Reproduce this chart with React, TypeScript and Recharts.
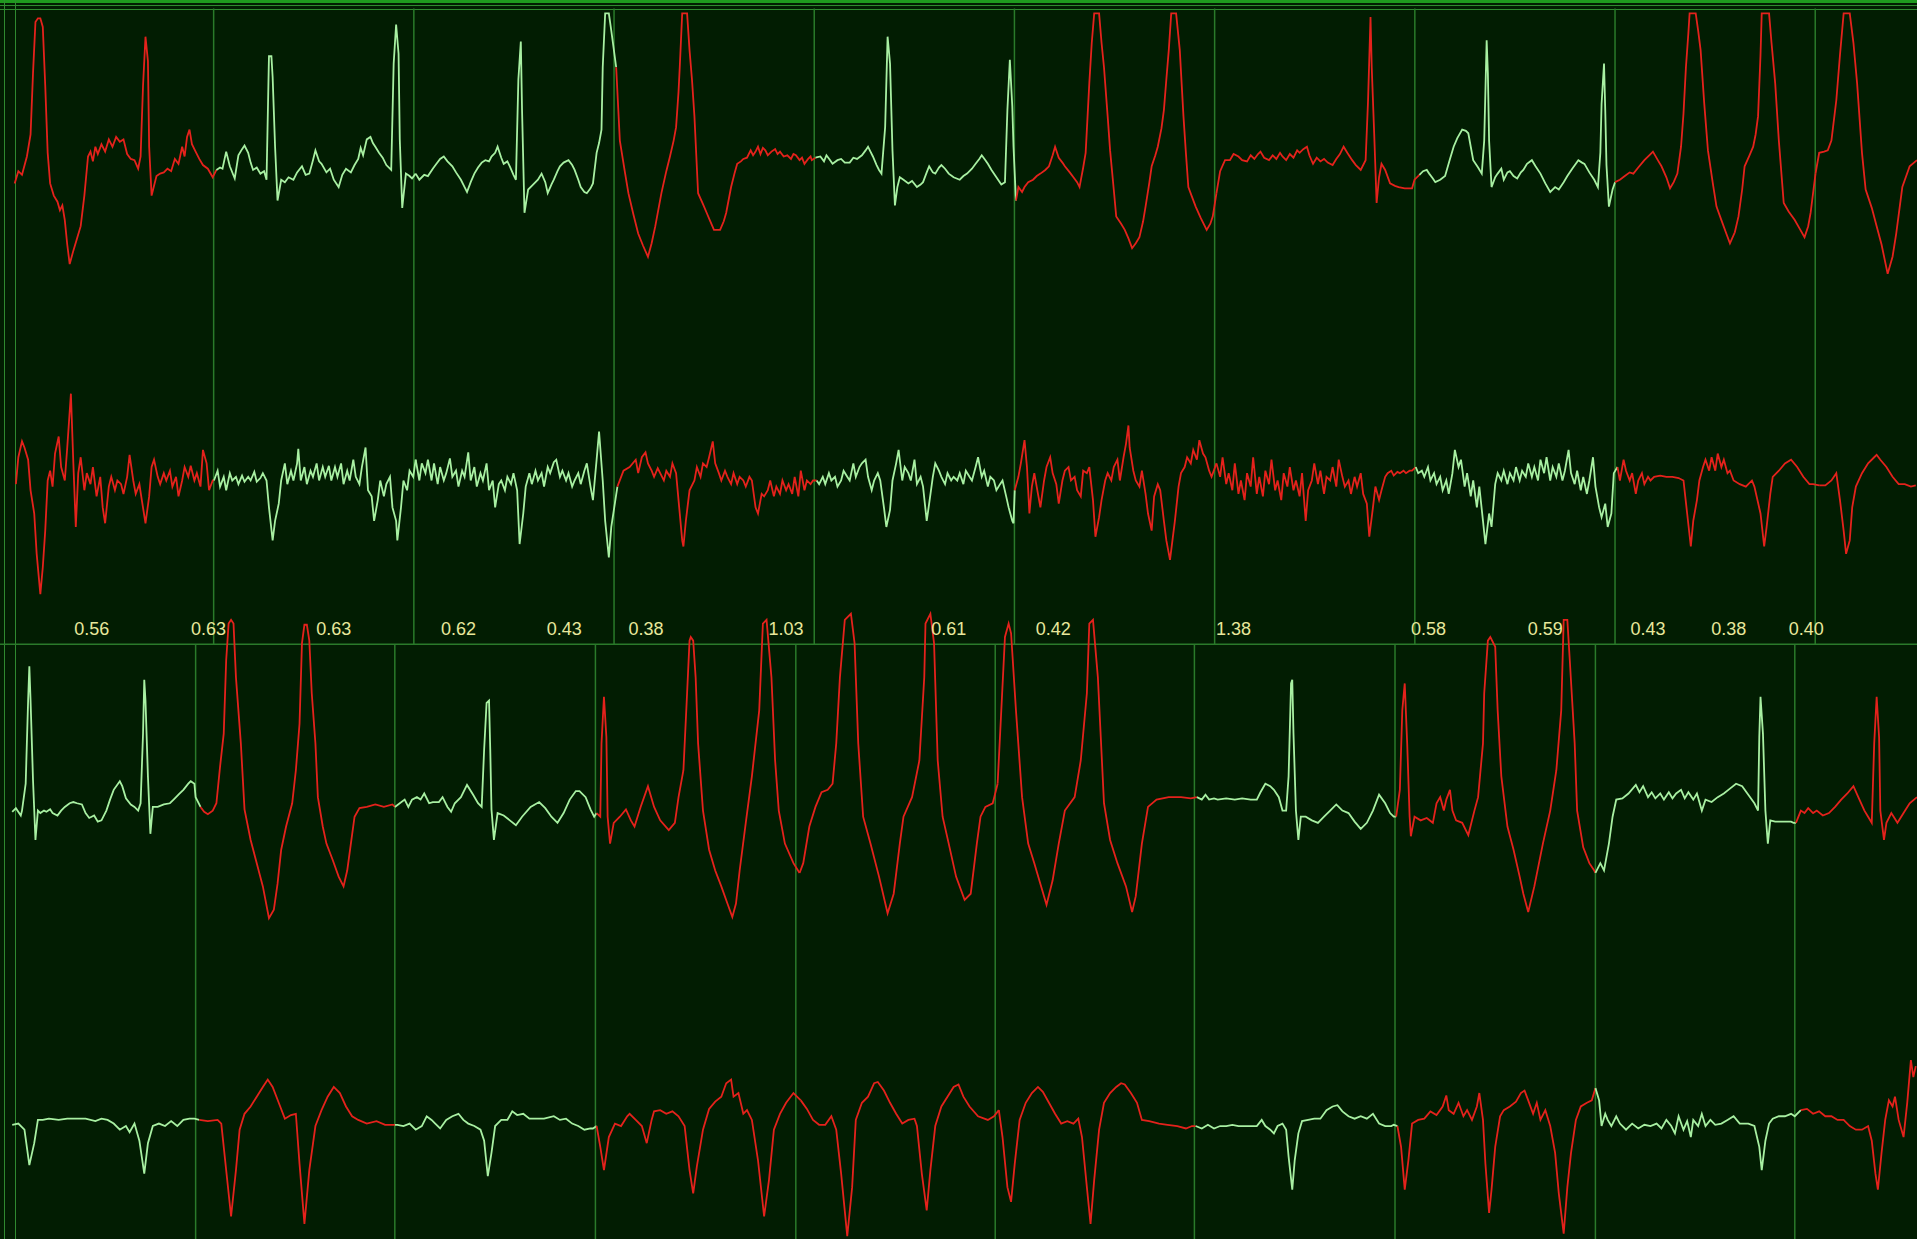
import React from 'react';
import { LineChart, Line, XAxis, YAxis, ReferenceLine, ReferenceDot } from 'recharts';

const SAMPLE_RATE = 163.75; // samples per second
const WIDTH = 1917;
const HEIGHT = 1239;

// [sample, amplitude] pairs, amplitude in 10 uV units, relative to each lead's baseline
const TOP_LEAD1 = [
  1,-15, 4,-5, 7,-8, 11,7, 14,25, 16,75, 18,117, 20,120, 22,120, 24,113, 26,65, 28,10, 30,-15, 33,-25, 36,-30, 38,-37, 40,-33, 42,-45, 44,-65, 46,-81, 49,-70, 52,-60, 55,-50, 58,-25, 61,7, 63,11, 65,3, 67,15, 69,9, 72,17, 75,11, 78,21, 81,15, 84,23, 87,19, 90,21, 93,9, 96,5, 99,4, 102,-3, 104,7, 106,65, 108,105, 110,85, 111,15, 113,-25, 115,-17, 117,-9, 120,-7, 123,-6, 126,-3, 129,-5, 132,5, 135,1, 138,15, 140,7, 142,23, 144,29, 146,17, 149,11, 152,5, 155,0, 159,-3, 163,-10,
  166,-4, 169,-2, 171,-3, 174,11, 177,-1, 181,-11, 184,8, 187,13, 189,16, 192,10, 194,2, 196,-4, 199,-2, 202,-7, 205,-5, 207,-12, 209,89, 211,89, 212,72, 214,15, 216,-29, 219,-12, 222,-14, 225,-10, 229,-12, 232,-6, 236,-1, 239,-8, 242,-7, 245,4, 247,12, 250,3, 252,1, 256,-6, 259,-3, 262,-12, 266,-18, 269,-8, 272,-3, 276,-6, 279,0, 282,5, 284,14, 286,8, 289,21, 292,23, 294,18, 296,15, 299,10, 302,6, 305,0, 309,-4, 311,83, 313,115, 315,91, 316,21, 318,-35, 321,-7, 324,-9, 326,-11,
  329,-7, 332,-12, 336,-8, 339,-9, 343,-3, 346,1, 349,5, 352,7, 355,3, 359,-1, 362,-6, 366,-12, 369,-18, 371,-22, 374,-14, 377,-7, 380,-2, 383,2, 386,4, 389,3, 391,7, 394,10, 396,15, 399,6, 401,1, 404,3, 406,-1, 409,-8, 411,-12, 413,70, 415,101, 416,45, 418,-39, 421,-20, 424,-17, 426,-15, 429,-12, 432,-7, 435,-14, 437,-23, 440,-16, 442,-12, 445,-5, 447,-1, 450,2, 454,4, 457,0, 459,-4, 462,-12, 464,-18, 467,-22, 469,-23, 472,-19, 474,-15, 477,10, 479,18, 481,29, 482,80, 484,124, 487,124, 489,110,
  493,80, 496,20, 500,-5, 503,-23, 507,-40, 511,-56, 515,-66, 519,-75, 522,-64, 525,-50, 530,-23, 534,-5, 537,7, 540,20, 542,31, 544,60, 545,80, 547,124, 551,124, 553,94, 555,70, 557,40, 560,-23, 564,-32, 567,-39, 570,-46, 573,-53, 578,-53, 581,-46, 583,-39, 587,-18, 590,-6, 592,1, 595,3, 597,5, 600,6, 603,12, 605,8, 607,11, 609,15, 611,9, 613,14, 615,12, 617,8, 620,11, 623,13, 625,9, 627,11, 630,7, 633,8, 636,5, 638,9, 640,8, 643,4, 645,6, 647,1, 650,5, 652,7,
  653,4, 656,6, 660,7, 663,3, 665,8, 668,4, 670,1, 674,4, 677,5, 680,2, 684,2, 687,6, 690,5, 694,8, 697,12, 699,15, 701,11, 703,7, 706,0, 708,-4, 710,-7, 713,31, 715,105, 717,83, 719,12, 721,-33, 723,-18, 725,-10, 728,-12, 732,-15, 735,-13, 739,-18, 742,-16, 744,-14, 747,-6, 749,-1, 752,-6, 754,-7, 757,-2, 759,0, 762,-3, 765,-7, 769,-10, 774,-12, 777,-9, 780,-7, 784,-3, 787,1, 790,5, 792,8, 795,4, 797,1, 800,-4, 804,-10, 808,-16, 811,-14, 813,45, 815,86, 817,48, 818,15,
  820,-29, 822,-18, 825,-22, 827,-18, 830,-14, 834,-12, 837,-9, 840,-7, 844,-4, 847,-1, 850,8, 852,15, 855,6, 858,2, 860,-1, 864,-6, 867,-10, 870,-14, 872,-18, 875,-2, 877,10, 880,67, 882,100, 884,124, 888,124, 890,100, 892,80, 895,40, 897,12, 900,-20, 902,-42, 906,-48, 909,-53, 912,-60, 915,-68, 918,-64, 921,-59, 924,-46, 926,-34, 929,-15, 931,-1, 934,8, 936,15, 939,30, 941,45, 943,70, 945,94, 947,124, 951,124, 954,94, 957,40, 959,10, 961,-18, 964,-26, 967,-34, 971,-43, 976,-53, 979,-48, 981,-42,
  984,-23, 987,-5, 991,4, 995,4, 998,9, 1002,7, 1005,4, 1009,3, 1012,8, 1015,5, 1018,9, 1020,11, 1023,6, 1027,4, 1030,8, 1033,5, 1036,10, 1038,7, 1041,4, 1044,9, 1047,6, 1050,12, 1052,10, 1055,13, 1058,15, 1060,8, 1063,1, 1066,6, 1069,3, 1072,5, 1075,2, 1079,0, 1082,5, 1085,9, 1088,15, 1091,10, 1095,4, 1098,0, 1102,-4, 1106,4, 1108,53, 1110,121, 1111,80, 1113,26, 1115,-31, 1117,-10, 1119,1, 1122,-4, 1126,-15, 1130,-17, 1133,-18, 1138,-19, 1144,-19,
  1146,-12, 1150,-8, 1153,-5, 1156,-4, 1158,-7, 1161,-11, 1163,-14, 1167,-12, 1171,-9, 1175,5, 1178,15, 1181,22, 1185,29, 1188,28, 1190,26, 1192,15, 1194,4, 1198,-2, 1201,-7, 1203,20, 1205,102, 1206,75, 1207,20, 1209,-18, 1212,-10, 1214,-7, 1217,-3, 1219,-12, 1222,-6, 1224,-5, 1227,-9, 1230,-11, 1233,-6, 1235,-4, 1238,1, 1242,4, 1245,-1, 1249,-7, 1253,-15, 1257,-22, 1261,-18, 1264,-20, 1268,-14, 1271,-9, 1275,-3, 1280,4, 1283,2, 1285,1, 1289,-6, 1293,-12, 1296,-18, 1298,10, 1299,50, 1301,83, 1302,45, 1303,0, 1305,-34, 1308,-20,
  1310,-14, 1314,-12, 1318,-9, 1322,-6, 1325,-7, 1329,-2, 1334,4, 1338,8, 1341,11, 1345,4, 1348,-1, 1352,-10, 1355,-19, 1358,-14, 1361,-7, 1364,15, 1366,42, 1368,80, 1370,108, 1371,124, 1376,124, 1378,110, 1380,94, 1383,50, 1386,12, 1390,-15, 1393,-34, 1397,-45, 1401,-56, 1404,-64, 1408,-55, 1411,-42, 1414,-20, 1416,-1, 1420,8, 1423,15, 1425,25, 1427,40, 1429,90, 1430,124, 1436,124, 1438,100, 1441,67, 1444,20, 1448,-31, 1452,-38, 1457,-45, 1461,-52, 1465,-59, 1468,-50, 1470,-39,
  1474,-7, 1477,10, 1481,11, 1484,12, 1487,20, 1491,53, 1494,90, 1497,124, 1502,124, 1505,100, 1508,67, 1512,10, 1515,-20, 1520,-35, 1524,-50, 1528,-65, 1533,-89, 1537,-75, 1540,-56, 1545,-18, 1551,-1, 1557,4,
];

const TOP_LEAD2 = [
  2,-6, 4,16, 7,29, 9,24, 12,14, 14,-11, 17,-30, 19,-63, 22,-96, 24,-74, 26,-44, 28,-3, 30,5, 32,-8, 34,19, 37,33, 39,8, 42,-3, 44,24, 47,68, 49,11, 51,-41, 53,3, 55,16, 58,-11, 60,3, 63,-6, 65,8, 68,-16, 71,0, 73,-25, 75,-38, 78,-8, 80,0, 83,-11, 85,-3, 88,-6, 90,-14, 93,0, 95,18, 98,-3, 100,-14, 103,-6, 105,-19, 108,-38, 111,-16, 113,8, 115,14, 118,0, 120,-6, 123,3, 125,-3, 128,5, 130,-8, 133,0, 135,-16, 138,-3, 140,8, 143,0, 145,9, 148,-3, 150,3, 153,-8, 155,22, 158,11, 160,-11, 163,-3,
  164,-3, 167,5, 169,-8, 172,0, 174,-11, 177,3, 179,-3, 182,0, 184,-6, 187,1, 189,-4, 192,0, 194,-3, 197,4, 199,-4, 202,-1, 204,3, 207,-3, 209,-25, 212,-52, 214,-36, 217,-22, 219,-3, 222,11, 224,-6, 227,5, 229,-3, 232,11, 233,23, 235,-3, 238,8, 240,-6, 243,5, 245,0, 248,11, 250,-3, 253,8, 255,0, 258,9, 260,-3, 263,8, 265,0, 268,11, 270,-6, 273,5, 275,-3, 278,14, 280,0, 283,-6, 285,8, 288,24, 290,-11, 293,-16, 295,-36, 298,-19, 300,-3, 303,-16, 305,-6, 308,0, 310,-25, 313,-36, 314,-52, 317,-25, 319,-3, 322,-11, 324,5,
  327,0, 329,14, 332,-3, 334,11, 337,3, 339,14, 342,-3, 344,11, 347,-6, 349,8, 352,-3, 354,3, 357,15, 359,0, 362,5, 364,-8, 367,5, 369,0, 372,20, 374,-3, 377,8, 379,-8, 382,3, 384,-3, 387,11, 389,-11, 392,-3, 394,-25, 397,-6, 399,-3, 402,-11, 404,0, 407,-6, 409,3, 412,-11, 414,-55, 417,-30, 419,-8, 422,3, 424,-6, 427,5, 429,-3, 432,3, 434,-8, 437,8, 439,3, 442,12, 444,14, 447,0, 449,5, 452,-3, 454,3, 457,-8, 459,-3, 462,3, 464,-6, 467,5, 469,11, 472,-8, 474,-19, 477,14, 479,37, 482,-3, 484,-36, 487,-66, 489,-41,
  494,-8, 499,5, 504,8, 509,14, 511,3, 514,16, 517,20, 519,11, 522,5, 524,0, 527,7, 529,3, 532,-3, 534,5, 537,0, 539,11, 542,3, 544,-19, 547,-52, 548,-57, 550,-36, 553,-11, 557,-3, 559,8, 562,0, 564,11, 567,8, 569,16, 572,29, 574,11, 577,3, 579,-3, 582,5, 584,0, 587,-6, 589,3, 592,-6, 594,0, 597,-3, 599,-8, 602,0, 604,-3, 607,-25, 609,-30, 612,-14, 614,-16, 617,-11, 619,-3, 622,-16, 624,-8, 627,-14, 629,-3, 632,-11, 634,-6, 637,-14, 639,0, 642,-16, 644,5, 647,-11, 649,-3, 652,-6, 654,-3,
  657,-3, 659,-6, 662,0, 664,-6, 667,3, 669,-3, 672,0, 674,-8, 677,-3, 679,5, 682,0, 684,-3, 687,11, 689,0, 692,8, 694,11, 697,14, 699,0, 702,-11, 704,-3, 707,3, 709,-3, 712,-25, 714,-41, 717,-27, 719,-3, 722,11, 724,22, 727,-3, 729,8, 732,3, 734,-3, 737,14, 739,-6, 742,0, 744,-8, 747,-36, 749,-22, 752,0, 754,11, 757,5, 759,0, 762,-6, 764,3, 767,-3, 769,0, 772,-3, 774,3, 777,-6, 779,5, 782,0, 784,-3, 787,8, 789,16, 792,0, 794,5, 797,-8, 799,0, 802,-3, 804,-11, 807,-6, 809,-3, 812,-16, 814,-25, 817,-36, 818,-38,
  819,-11, 822,0, 824,11, 827,30, 829,8, 831,-30, 833,-8, 835,3, 838,-14, 840,-25, 843,-3, 845,8, 848,16, 850,3, 853,-6, 855,-22, 858,-3, 860,5, 863,8, 865,-3, 868,0, 870,-11, 873,-16, 875,5, 878,3, 880,8, 883,-19, 885,-49, 888,-33, 890,-19, 893,-3, 895,3, 898,-3, 900,8, 903,14, 905,-3, 908,16, 910,27, 912,42, 913,24, 916,5, 918,-3, 921,-8, 923,5, 926,-14, 928,-30, 931,-44, 933,-16, 936,-6, 938,-11, 941,-36, 943,-52, 946,-68, 948,-52, 950,-36, 953,-8, 955,3, 958,8, 960,16, 963,11, 965,22, 968,14, 970,30, 973,19, 975,16, 978,5, 980,0,
  984,11, 987,0, 989,16, 992,-6, 994,3, 997,-11, 999,11, 1002,-14, 1004,-3, 1007,-19, 1009,3, 1012,-8, 1014,16, 1017,-14, 1019,0, 1022,-16, 1024,5, 1027,-6, 1029,14, 1032,-11, 1034,-3, 1037,-19, 1039,3, 1042,-8, 1044,8, 1047,-11, 1049,-3, 1052,-16, 1054,3, 1057,-36, 1059,-11, 1062,-3, 1064,11, 1067,-6, 1069,5, 1072,-14, 1074,0, 1077,-3, 1079,8, 1082,-8, 1084,14, 1087,0, 1089,-8, 1092,-3, 1094,-14, 1097,0, 1099,-8, 1102,3, 1104,-14, 1107,-22, 1109,-49, 1112,-25, 1114,-8, 1117,-19, 1119,-11, 1122,0, 1124,3, 1127,5, 1129,1, 1132,4, 1134,3, 1137,5, 1139,3, 1142,5, 1144,5,
  1147,8, 1149,3, 1152,5, 1154,0, 1157,8, 1159,-3, 1162,3, 1164,-6, 1167,0, 1169,-11, 1172,-3, 1174,-14, 1177,3, 1179,22, 1182,8, 1184,14, 1187,-8, 1189,3, 1192,-16, 1194,-3, 1197,-25, 1199,-8, 1202,-36, 1204,-55, 1207,-30, 1209,-41, 1212,-6, 1214,3, 1217,-3, 1219,5, 1222,-6, 1224,3, 1227,-3, 1229,8, 1232,-3, 1234,5, 1237,0, 1239,11, 1242,0, 1244,8, 1247,-3, 1249,14, 1252,3, 1254,16, 1257,-3, 1259,8, 1262,0, 1264,11, 1267,-3, 1269,5, 1272,22, 1274,3, 1277,-6, 1279,5, 1282,-11, 1284,0, 1287,-14, 1289,-3, 1292,16, 1294,-8, 1297,-25, 1299,-33, 1302,-22, 1304,-41, 1307,-30,
  1309,3, 1312,8, 1314,-3, 1317,14, 1319,5, 1322,-3, 1324,3, 1327,-14, 1329,-3, 1332,3, 1334,-6, 1337,0, 1339,-3, 1342,0, 1347,1, 1352,0, 1357,0, 1362,-1, 1366,-3, 1369,-30, 1372,-57, 1374,-36, 1377,-19, 1379,-3, 1382,8, 1384,14, 1387,5, 1389,16, 1392,5, 1394,19, 1397,8, 1399,14, 1402,3, 1404,5, 1407,-3, 1412,-6, 1417,-8, 1422,-3, 1424,-8, 1429,-30, 1432,-57, 1434,-41, 1437,-14, 1439,0, 1444,5, 1449,11, 1454,14, 1459,8, 1464,0, 1469,-6, 1472,-6,
  1477,-7, 1482,-7, 1487,-3, 1491,3, 1494,-19, 1497,-44, 1499,-63, 1502,-52, 1504,-25, 1507,-8, 1512,3, 1517,11, 1522,16, 1524,18, 1527,14, 1532,8, 1537,0, 1542,-6, 1547,-6, 1552,-8, 1556,-7,
];

const BOTTOM_LEAD1 = [
  -1,-9, 2,-6, 6,-12, 7,-8, 10,14, 12,82, 13,110, 14,82, 16,17, 18,-32, 20,-8, 22,-10, 25,-8, 27,-9, 30,-7, 32,-10, 36,-12, 39,-8, 42,-5, 46,-2, 49,-1, 52,-2, 56,-3, 59,-10, 62,-14, 66,-12, 69,-17, 72,-16, 76,-8, 79,1, 82,9, 87,16, 89,12, 92,2, 96,-3, 99,-5, 102,-8, 104,-2, 106,55, 107,99, 108,82, 110,20, 112,-27, 114,-5, 118,-5, 123,-3, 128,-2, 131,1, 136,6, 139,9, 143,14, 145,16, 148,14,
  149,3, 153,-5, 156,-9, 159,-11, 163,-8, 166,-2, 169,28, 172,55, 174,115, 176,145, 178,148, 180,145, 182,101, 186,47, 189,-7, 194,-32, 199,-51, 204,-70, 209,-96, 213,-89, 216,-68, 219,-40, 223,-21, 228,-2, 231,25, 234,63, 236,129, 238,144, 240,144, 242,131, 244,88, 247,47, 249,3, 253,-21, 256,-35, 261,-48, 266,-62, 270,-70, 273,-57, 276,-35, 279,-13, 283,-6, 289,-5, 296,-3, 303,-5, 310,-3,
  312,-5, 316,-2, 320,1, 323,-5, 326,1, 330,3, 333,1, 336,6, 340,-2, 343,-1, 348,-1, 351,3, 355,-5, 358,-9, 361,-2, 366,3, 371,13, 376,5, 380,-2, 383,-5, 385,42, 387,80, 389,82, 390,42, 391,-7, 393,-32, 396,-10, 401,-12, 406,-16, 411,-20, 416,-13, 423,-5, 430,-1, 435,-6, 440,-13, 445,-18, 450,-10, 455,1, 460,8, 463,8, 468,3, 472,-7, 475,-13,
  477,-10, 480,-13, 481,47, 483,85, 485,52, 486,-13, 488,-35, 491,-18, 496,-13, 501,-7, 505,-16, 508,-21, 513,-5, 519,12, 524,-5, 529,-16, 536,-24, 541,-18, 544,3, 548,25, 551,88, 553,131, 554,134, 556,131, 558,101, 560,47, 564,-8, 569,-40, 574,-57, 579,-70, 584,-84, 588,-95, 591,-84, 594,-57, 599,-18, 604,20, 610,74, 613,145, 616,148, 620,101, 623,33, 626,-8, 631,-35, 638,-51,
  643,-59, 646,-51, 651,-21, 656,-5, 661,7, 666,9, 670,14, 673,47, 676,101, 680,148, 685,153, 688,129, 691,47, 695,-13, 701,-35, 708,-62, 715,-92, 720,-76, 725,-35, 728,-13, 735,3, 741,33, 745,101, 746,145, 750,153, 753,129, 756,33, 760,-13, 765,-35, 771,-62, 778,-81, 783,-76, 788,-35, 791,-13, 795,-5, 801,-2,
  805,14, 808,74, 811,134, 814,145, 816,137, 820,74, 825,3, 830,-35, 835,-51, 840,-68, 845,-85, 850,-65, 855,-35, 860,-8, 868,3, 873,33, 878,88, 880,145, 883,148, 887,101, 892,-2, 897,-32, 903,-51, 910,-70, 915,-91, 918,-78, 923,-35, 928,-5, 935,1, 945,3, 955,3, 963,2,
  968,3, 972,1, 975,5, 978,1, 982,2, 985,1, 992,2, 999,1, 1005,2, 1012,1, 1017,1, 1020,7, 1024,14, 1028,12, 1031,9, 1035,3, 1038,-8, 1041,-8, 1043,20, 1045,96, 1046,99, 1047,55, 1049,-8, 1051,-32, 1053,-13, 1057,-13, 1062,-16, 1067,-18, 1072,-13, 1077,-8, 1082,-3, 1087,-8, 1092,-10, 1097,-17, 1102,-23, 1107,-18, 1112,-8, 1117,5, 1122,-2, 1126,-10, 1129,-13,
  1131,-13, 1134,9, 1136,74, 1138,96, 1140,47, 1142,-13, 1143,-29, 1146,-13, 1151,-16, 1156,-14, 1161,-18, 1164,-2, 1167,3, 1170,-8, 1172,1, 1175,9, 1177,-8, 1180,-16, 1185,-18, 1190,-28, 1195,-8, 1198,3, 1202,47, 1203,88, 1206,131, 1208,134, 1212,126, 1214,74, 1217,20, 1222,-21, 1227,-40, 1232,-62, 1235,-76, 1239,-91, 1244,-70, 1251,-35, 1257,-8, 1262,25, 1266,74, 1268,148, 1271,148, 1273,115, 1277,47, 1279,-8, 1284,-38, 1289,-51, 1293,-57,
  1294,-59, 1298,-51, 1301,-57, 1305,-35, 1308,-13, 1311,1, 1316,2, 1321,6, 1327,13, 1330,7, 1333,12, 1337,3, 1340,7, 1343,2, 1347,6, 1350,1, 1354,7, 1357,2, 1360,6, 1364,9, 1367,2, 1370,7, 1374,1, 1377,6, 1381,-8, 1384,1, 1389,-1, 1394,3, 1399,6, 1404,10, 1409,14, 1414,12, 1419,5, 1424,-2, 1427,-8, 1428,52, 1429,85, 1431,55, 1433,-8, 1435,-35, 1437,-16, 1441,-17, 1448,-17, 1454,-17, 1456,-18,
  1458,-18, 1462,-8, 1465,-10, 1468,-6, 1472,-10, 1475,-8, 1480,-12, 1485,-10, 1490,-5, 1495,1, 1500,6, 1505,12, 1509,3, 1514,-8, 1517,-13, 1520,-18, 1522,47, 1524,85, 1526,52, 1527,-8, 1530,-32, 1532,-18, 1536,-10, 1541,-18, 1546,-10, 1551,-2, 1557,3,
];

const BOTTOM_LEAD2 = [
  -1,-5, 4,-4, 9,-9, 13,-38, 17,-20, 20,-1, 24,-1, 29,0, 37,-1, 44,0, 52,0, 59,0, 67,-2, 72,0, 77,-1, 82,-4, 87,-9, 92,-6, 95,-11, 99,-4, 103,-18, 107,-45, 110,-20, 114,-6, 119,-4, 124,-6, 129,-2, 134,-6, 139,-1, 144,0, 148,0,
  152,-1, 159,-2, 167,-1, 170,-4, 174,-42, 178,-80, 182,-42, 185,-9, 189,4, 194,10, 199,18, 204,26, 208,32, 212,26, 217,13, 222,0, 227,3, 231,4, 234,-37, 238,-86, 242,-42, 247,-6, 252,7, 257,18, 262,26, 267,21, 272,10, 277,2, 282,-1, 289,-4, 297,-2, 304,-5, 312,-5,
  314,-5, 319,-6, 324,-4, 329,-9, 334,-6, 338,2, 342,-1, 345,-4, 349,-8, 354,-1, 359,2, 364,4, 368,-1, 372,-4, 377,-6, 382,-9, 385,-18, 388,-47, 391,-28, 394,-6, 399,-1, 404,-1, 408,6, 412,3, 417,4, 422,0, 427,0, 434,0, 442,2, 447,-1, 452,0, 457,-4, 462,-6, 467,-9, 472,-8, 474,-8,
  477,-6, 480,-23, 483,-42, 487,-15, 492,-4, 497,-6, 502,2, 504,4, 509,-1, 514,-6, 518,-20, 522,-1, 524,6, 529,7, 534,4, 539,6, 544,2, 549,-6, 553,-42, 556,-61, 559,-39, 564,-9, 569,8, 574,14, 579,18, 583,29, 587,32, 589,18, 593,21, 597,4, 600,7, 604,-1, 609,-34, 614,-80, 618,-50, 622,-9, 627,4, 632,13, 638,21,
  644,15, 649,8, 654,-1, 659,-5, 664,-5, 669,2, 673,-9, 677,-45, 682,-96, 686,-56, 689,-1, 694,13, 699,18, 704,29, 707,30, 712,23, 717,13, 722,4, 727,-4, 732,-1, 737,0, 739,-6, 743,-45, 747,-75, 750,-42, 754,-6, 759,10, 764,18, 769,26, 773,28, 777,18, 782,10, 789,2, 797,-1, 802,2,
  806,7, 809,-15, 813,-56, 816,-68, 819,-37, 823,-1, 828,13, 833,21, 838,26, 842,22, 847,13, 852,4, 857,-4, 862,-2, 867,-4, 871,0, 874,-15, 878,-56, 881,-86, 884,-50, 888,-9, 892,13, 897,21, 902,26, 906,29, 909,28, 914,21, 919,13, 923,-1, 929,-2, 937,-4, 944,-5, 952,-6, 959,-8, 964,-6,
  967,-6, 972,-8, 977,-5, 982,-8, 987,-6, 992,-6, 997,-5, 1002,-6, 1007,-6, 1012,-6, 1017,-6, 1021,-1, 1024,-6, 1028,-9, 1031,-12, 1034,-6, 1038,-4, 1041,-9, 1043,-31, 1046,-58, 1048,-34, 1051,-12, 1054,-2, 1059,-1, 1064,0, 1069,0, 1074,7, 1079,10, 1083,11, 1087,6, 1092,2, 1097,0, 1102,2, 1107,0, 1112,4, 1117,-4, 1122,-6, 1127,-6, 1129,-5,
  1132,-6, 1135,-23, 1138,-58, 1141,-34, 1144,-4, 1149,-1, 1154,0, 1159,6, 1164,3, 1169,10, 1172,19, 1174,7, 1178,4, 1182,13, 1186,2, 1189,7, 1193,-1, 1197,10, 1199,21, 1202,-1, 1204,-37, 1207,-77, 1209,-58, 1212,-23, 1216,2, 1219,7, 1224,10, 1229,14, 1233,21, 1236,23, 1239,15, 1243,4, 1246,13, 1249,-1, 1253,7, 1257,-6, 1261,-28, 1264,-61, 1268,-94, 1271,-56, 1274,-28, 1278,-1, 1282,10, 1287,13, 1291,15,
  1294,25, 1297,15, 1299,-6, 1302,4, 1304,-1, 1307,-6, 1311,2, 1314,-4, 1319,-9, 1324,-4, 1329,-8, 1334,-5, 1339,-6, 1344,-4, 1348,-8, 1352,-1, 1356,-6, 1359,-12, 1362,2, 1366,-9, 1369,-2, 1372,-15, 1374,-1, 1378,-6, 1381,4, 1384,-6, 1388,-1, 1392,-5, 1397,-4, 1402,-1, 1407,2, 1412,-4, 1419,-4, 1424,-6, 1428,-23, 1430,-42, 1433,-18, 1436,-4, 1439,0, 1444,2, 1449,2, 1454,4,
  1457,2, 1462,7, 1467,8, 1472,4, 1477,6, 1482,2, 1487,2, 1492,-1, 1497,-1, 1502,-6, 1507,-9, 1512,-9, 1517,-6, 1520,-18, 1523,-45, 1525,-58, 1528,-28, 1531,-1, 1534,15, 1537,10, 1539,18, 1542,-1, 1546,-15, 1549,13, 1552,48, 1554,34, 1556,43,
];

// one-second grid of each strip (s)
const TOP_GRID = [1, 2, 3, 4, 5, 6, 7, 8, 9];
const BOTTOM_GRID = [0.91, 1.905, 2.907, 3.908, 4.904, 5.899, 6.901, 7.902, 8.898];

// beat class of each one-second block: N normal, V ventricular
const TOP_CLASSES = ['V', 'N', 'N', 'V', 'N', 'V', 'V', 'N', 'V', 'V'];
const BOTTOM_CLASSES = ['N', 'V', 'N', 'V', 'V', 'V', 'N', 'V', 'N', 'V'];

// detected beats of the top strip (sample) and RR intervals between them
const BEAT_SAMPLES = [20, 108, 211, 313, 415, 486, 549, 715, 815, 886, 1110, 1205, 1301, 1373, 1433, 1500];
const RR_LABELS = ['0.56', '0.63', '0.63', '0.62', '0.43', '0.38', '1.03', '0.61', '0.42', '1.38', '0.58', '0.59', '0.43', '0.38', '0.40'];

const BG = '#021d02';
const FRAME = '#2f8a2f';
const GRID = '#2a7a2a';
const COLORS: Record<string, string> = { N: '#a8f0a2', V: '#e4221c' };

// vertical layout in amplitude units, measured from top of the screen
const Y_SPAN = 1013.4;
const STRIP_TOP = -7;
const STRIP_SPLIT = -527;
const LABEL_Y = -514;

type Pt = { t: number; y: number };

function splitLead(flat: number[], baseline: number, grid: number[]): Pt[][] {
  const pts: Pt[] = [];
  for (let i = 0; i < flat.length; i += 2) {
    pts.push({ t: flat[i] / SAMPLE_RATE, y: flat[i + 1] - baseline });
  }
  const edges = [-Infinity, ...grid, Infinity];
  const segs: Pt[][] = [];
  for (let k = 0; k < edges.length - 1; k++) {
    const inside = pts.filter((p) => p.t >= edges[k] && p.t < edges[k + 1]);
    const next = pts.find((p) => p.t >= edges[k + 1]);
    if (next) inside.push(next);
    segs.push(inside);
  }
  return segs;
}

const leads = [
  { name: 'top1', data: TOP_LEAD1, baseline: 135, grid: TOP_GRID, classes: TOP_CLASSES },
  { name: 'top2', data: TOP_LEAD2, baseline: 390, grid: TOP_GRID, classes: TOP_CLASSES },
  { name: 'bot1', data: BOTTOM_LEAD1, baseline: 655, grid: BOTTOM_GRID, classes: BOTTOM_CLASSES },
  { name: 'bot2', data: BOTTOM_LEAD2, baseline: 915, grid: BOTTOM_GRID, classes: BOTTOM_CLASSES },
];

const rrMarks = RR_LABELS.map((text, i) => ({
  t: (BEAT_SAMPLES[i] + BEAT_SAMPLES[i + 1]) / 2 / SAMPLE_RATE,
  text,
}));

const line = (style: React.CSSProperties) => (
  <div style={{ position: 'absolute', background: FRAME, ...style }} />
);

export default function App() {
  return (
    <div style={{ position: 'fixed', left: 0, top: 0, width: WIDTH, height: HEIGHT, background: BG, overflow: 'hidden' }}>
      {line({ left: 0, top: 0, width: WIDTH, height: 3, background: '#1e9a1e' })}
      {line({ left: 0, top: 5, width: WIDTH, height: 1 })}
      {line({ left: 0, top: 9, width: WIDTH, height: 1 })}
      {line({ left: 4, top: 0, width: 1, height: HEIGHT })}
      {line({ left: 15, top: 0, width: 1, height: HEIGHT })}
      <div style={{ position: 'absolute', left: 0, top: 0 }}>
        <LineChart width={WIDTH} height={HEIGHT} margin={{ top: 0, right: 0, bottom: 0, left: 0 }}>
          <XAxis
            type="number"
            dataKey="t"
            domain={[-11 / SAMPLE_RATE, 1557 / SAMPLE_RATE]}
            allowDataOverflow
            hide
          />
          <YAxis type="number" domain={[-Y_SPAN, 0]} allowDataOverflow hide />
          <ReferenceLine y={STRIP_SPLIT} stroke={GRID} strokeWidth={1.5} />
          {TOP_GRID.map((t) => (
            <ReferenceLine
              key={'tg' + t}
              segment={[{ x: t, y: STRIP_TOP }, { x: t, y: STRIP_SPLIT }]}
              stroke={GRID}
              strokeWidth={1.5}
            />
          ))}
          {BOTTOM_GRID.map((t) => (
            <ReferenceLine
              key={'bg' + t}
              segment={[{ x: t, y: STRIP_SPLIT }, { x: t, y: -Y_SPAN }]}
              stroke={GRID}
              strokeWidth={1.5}
            />
          ))}
          {rrMarks.map((m, i) => (
            <ReferenceDot
              key={'rr' + i}
              x={m.t}
              y={LABEL_Y}
              r={0}
              fill="none"
              stroke="none"
              label={{
                value: m.text,
                position: 'center',
                fill: '#e8e89c',
                fontSize: 18,
                fontFamily: 'Liberation Sans, Arial, sans-serif',
              }}
            />
          ))}
          {leads.map((lead) =>
            splitLead(lead.data, lead.baseline, lead.grid).map((seg, k) => (
              <Line
                key={lead.name + k}
                data={seg}
                dataKey="y"
                type="linear"
                stroke={COLORS[lead.classes[k]]}
                strokeWidth={1.8}
                dot={false}
                activeDot={false}
                isAnimationActive={false}
              />
            ))
          )}
        </LineChart>
      </div>
    </div>
  );
}
